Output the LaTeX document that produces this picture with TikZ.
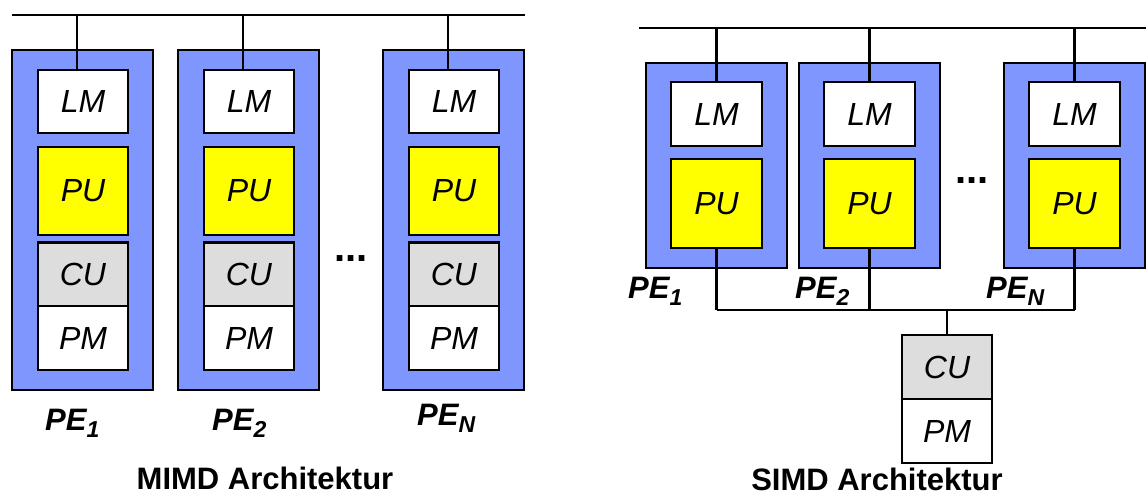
\documentclass[tikz,border=0pt]{standalone}
\usepackage{fontspec}
\setmainfont{Liberation Sans}
\definecolor{peblue}{RGB}{128,150,255}
\definecolor{puyellow}{RGB}{255,255,0}
\definecolor{cugray}{RGB}{221,221,221}
\newcommand{\boxfont}{\fontsize{32}{36}\selectfont\itshape}
\newcommand{\pelabel}[1]{{\fontsize{31}{36}\selectfont\bfseries\itshape PE\raisebox{-7pt}{\fontsize{23}{26}\selectfont #1}}}
\begin{document}
\begin{tikzpicture}[x=1pt,y=-1pt,
  line/.style={line width=2.6pt},
  pebox/.style={draw,line width=2.6pt,fill=peblue},
  unit/.style={draw,line width=2.6pt,inner sep=0pt,outer sep=0pt,font=\boxfont},
  lmbox/.style={unit,fill=white},
  pubox/.style={unit,fill=puyellow},
  cubox/.style={unit,fill=cugray},
  pmbox/.style={unit,fill=white},
  lab/.style={anchor=base west,inner sep=0pt},
  title/.style={anchor=base,inner sep=0pt,font=\fontsize{31}{36}\selectfont\bfseries},
  dots/.style={anchor=base,inner sep=0pt,font=\fontsize{40}{40}\selectfont\bfseries}]
\useasboundingbox (0,0) rectangle (1146,495);
% ---------- MIMD ----------
\coordinate (mbusL) at (12,15);
\coordinate (mbusR) at (525,15);
\draw[line] (mbusL) -- (mbusR);
\foreach \i/\x in {1/12,2/178,N/383}{
  \node[pebox,minimum width=141pt,minimum height=340pt,inner sep=0pt,outer sep=0pt,anchor=north west] (mpe\i) at (\x,50) {};
  \node[lmbox,minimum width=90pt,minimum height=63pt] (mlm\i) at (\x+71,101.5) {LM};
  \node[pubox,minimum width=90pt,minimum height=88pt] (mpu\i) at (\x+71,191) {PU};
  \node[cubox,minimum width=90pt,minimum height=63.5pt] (mcu\i) at (\x+71,274.25) {CU};
  \node[pmbox,minimum width=90pt,minimum height=64pt] (mpm\i) at (\x+71,338) {PM};
  \coordinate (mtap\i) at (\x+65,15);
  \draw[line] (mtap\i) -- (mtap\i |- mlm\i.north);
}
\node[lab] (mpel1) at (45,430) {\pelabel{1}};
\node[lab] (mpel2) at (212,430) {\pelabel{2}};
\node[lab] (mpelN) at (417,425) {\pelabel{N}};
\node[dots] (mdots) at (351,261) {...};
\node[title] (mtitle) at (265,489) {MIMD Architektur};
% ---------- SIMD ----------
\coordinate (sbusL) at (639,28);
\coordinate (sbusR) at (1146,28);
\draw[line] (sbusL) -- (sbusR);
\foreach \i/\x in {1/646,2/799,N/1004}{
  \node[pebox,minimum width=141pt,minimum height=205pt,inner sep=0pt,outer sep=0pt,anchor=north west] (spe\i) at (\x,63) {};
  \node[lmbox,minimum width=91pt,minimum height=64pt] (slm\i) at (\x+70.5,114) {LM};
  \node[pubox,minimum width=91pt,minimum height=89pt] (spu\i) at (\x+70.5,203.5) {PU};
  \coordinate (stap\i) at (\x+70.5,28);
  \draw[line] (stap\i) -- (slm\i.north);
  \coordinate (sbot\i) at (\x+70.5,310);
  \draw[line] (spu\i.south) -- (sbot\i);
}
\draw[line] (sbot1) -- (sbotN);
\node[cubox,minimum width=90pt,minimum height=64pt] (scu) at (947,367) {CU};
\node[pmbox,minimum width=90pt,minimum height=64pt] (spm) at (947,431) {PM};
\coordinate (scutap) at (947,310);
\draw[line] (scutap) -- (scu.north);
\node[lab] (spel1) at (628,298) {\pelabel{1}};
\node[lab] (spel2) at (795,298) {\pelabel{2}};
\node[lab] (spelN) at (986,298) {\pelabel{N}};
\node[dots] (sdots) at (972,183) {...};
\node[title] (stitle) at (877,490) {SIMD Architektur};
\end{tikzpicture}
\end{document}
